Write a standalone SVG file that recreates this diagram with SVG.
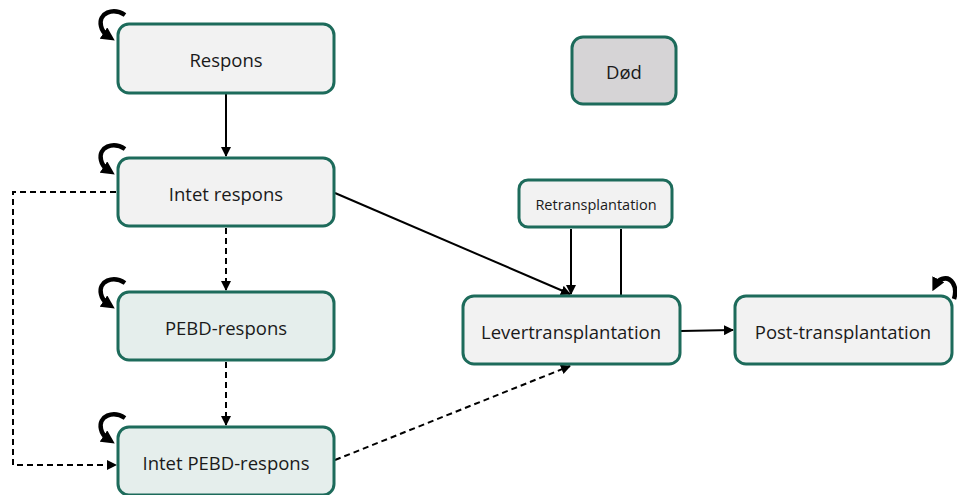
<svg xmlns="http://www.w3.org/2000/svg" width="957" height="495" viewBox="0 0 957 495">
<defs>
<style>
.n{stroke:#1d6b5b;stroke-width:3}
.g{fill:#f2f2f2}
.t{fill:#e5eeec}
.d{fill:#d6d4d6}
text{font-family:"Open Sans","Noto Sans",sans-serif;font-size:18.5px;fill:#1a1a1a;text-anchor:middle;dominant-baseline:central}
.c{fill:none;stroke:#000;stroke-width:2}
.ds{stroke-dasharray:6,4}
.loop{fill:none;stroke:#000;stroke-width:4.5}
</style>
<marker id="a" viewBox="0 0 10 10" refX="9" refY="5" markerWidth="5" markerHeight="5" orient="auto-start-reverse" markerUnits="strokeWidth">
<path d="M0,0 L10,5 L0,10 z" fill="#000"/>
</marker>
<marker id="la" viewBox="0 0 10 10" refX="4" refY="5" markerWidth="3" markerHeight="3" orient="auto" markerUnits="strokeWidth">
<path d="M0,0 L10,5 L0,10 z" fill="#000"/>
</marker>
</defs>
<g id="connectors">
<line class="c" x1="226" y1="94" x2="226" y2="156" marker-end="url(#a)"/>
<line class="c ds" x1="226" y1="228" x2="226" y2="290" marker-end="url(#a)"/>
<line class="c ds" x1="226" y1="362" x2="226" y2="425" marker-end="url(#a)"/>
<polyline class="c ds" points="116,192 13,192 13,465 116,465" marker-end="url(#a)"/>
<line class="c" x1="335" y1="193" x2="570" y2="294" marker-end="url(#a)"/>
<line class="c ds" x1="335" y1="460" x2="570" y2="366" marker-end="url(#a)"/>
<line class="c" x1="571" y1="229" x2="571" y2="294" marker-end="url(#a)"/>
<line class="c" x1="621" y1="229" x2="621" y2="296"/>
<line class="c" x1="681" y1="331" x2="733" y2="330" marker-end="url(#a)"/>
<path class="loop" d="M125,15 C113,7 98,13 101,26 C102,31 105,34 108,36" marker-end="url(#la)"/>
<path class="loop" d="M125,149 C113,141 98,147 101,160 C102,165 105,168 108,170" marker-end="url(#la)"/>
<path class="loop" d="M125,283 C113,275 98,281 101,294 C102,299 105,302 108,304" marker-end="url(#la)"/>
<path class="loop" d="M125,418 C113,410 98,416 101,429 C102,434 105,437 108,439" marker-end="url(#la)"/>
<path class="loop" d="M954,299 C958,286 951,276 942,279 C939,280 937,282 936,284" marker-end="url(#la)"/>
</g>
<g id="respons"><rect class="n g" x="118" y="24" width="216" height="69" rx="11"/><text x="226" y="59">Respons</text></g>
<g id="intet-respons"><rect class="n g" x="118" y="158" width="216" height="68" rx="11"/><text x="226" y="193">Intet respons</text></g>
<g id="pebd-respons"><rect class="n t" x="118" y="292" width="216" height="68" rx="11"/><text x="226" y="327">PEBD-respons</text></g>
<g id="intet-pebd-respons"><rect class="n t" x="118" y="427" width="216" height="68" rx="11"/><text x="226" y="462">Intet PEBD-respons</text></g>
<g id="dod"><rect class="n d" x="572" y="37" width="104" height="67" rx="11"/><text x="624" y="71">Død</text></g>
<g id="retransplantation"><rect class="n g" x="519" y="180" width="153" height="47" rx="9"/><text x="596" y="204" style="font-size:14.5px">Retransplantation</text></g>
<g id="levertransplantation"><rect class="n g" x="463" y="296" width="217" height="68" rx="11"/><text x="571" y="331">Levertransplantation</text></g>
<g id="post-transplantation"><rect class="n g" x="735" y="296" width="217" height="68" rx="11"/><text x="843" y="331">Post-transplantation</text></g>
</svg>
